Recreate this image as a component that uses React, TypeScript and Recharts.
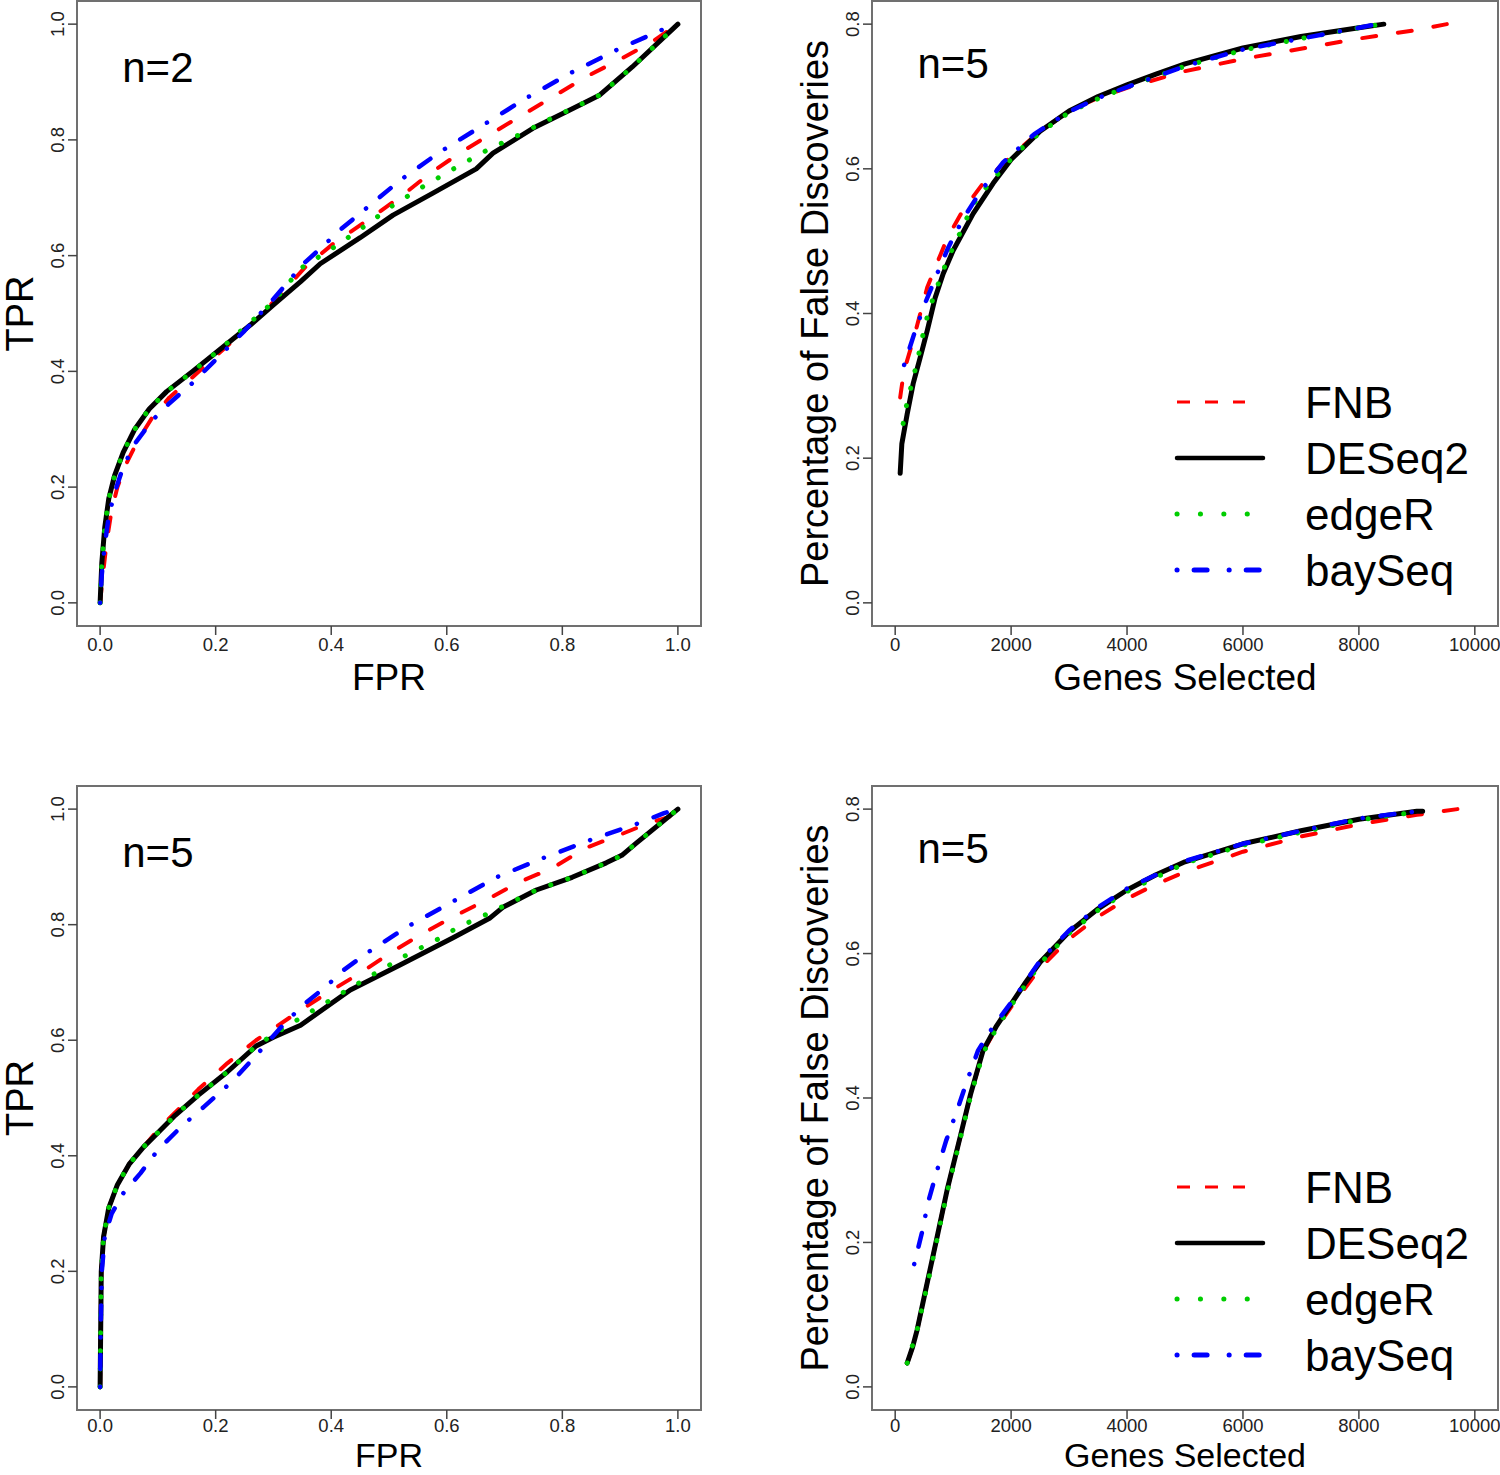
import {
  Legend,
  Line,
  LineChart,
  ReferenceArea,
  ReferenceDot,
  XAxis,
  YAxis,
} from "recharts";

const FONT = '"Liberation Sans", Arial, Helvetica, sans-serif';

const methods = ["FNB", "DESeq2", "edgeR", "baySeq"];

const fprTicks = [0, 0.2, 0.4, 0.6, 0.8, 1.0];
const tprTicks = [0, 0.2, 0.4, 0.6, 0.8, 1.0];
const geneTicks = [0, 2000, 4000, 6000, 8000, 10000];
const fdTicks = [0, 0.2, 0.4, 0.6, 0.8];

// ROC, n=2 (FPR, TPR)
const rocN2FNB = [
  [0, 0], [0.005, 0.05], [0.012, 0.11], [0.02, 0.16], [0.03, 0.2], [0.045, 0.24],
  [0.065, 0.28], [0.09, 0.32], [0.12, 0.355], [0.16, 0.39], [0.21, 0.435],
  [0.26, 0.48], [0.3, 0.52], [0.355, 0.58], [0.404, 0.621], [0.47, 0.666],
  [0.519, 0.701], [0.571, 0.742], [0.622, 0.777], [0.668, 0.805], [0.731, 0.843],
  [0.783, 0.874], [0.841, 0.909], [0.898, 0.938], [0.955, 0.969], [1, 1],
];
const rocN2DESeq2 = [
  [0, 0], [0.003, 0.07], [0.008, 0.13], [0.015, 0.18], [0.025, 0.22], [0.04, 0.26],
  [0.06, 0.3], [0.085, 0.335], [0.115, 0.365], [0.16, 0.4], [0.21, 0.44],
  [0.26, 0.48], [0.3, 0.515], [0.347, 0.555], [0.381, 0.586], [0.45, 0.631],
  [0.507, 0.67], [0.576, 0.708], [0.651, 0.75], [0.68, 0.777], [0.749, 0.82],
  [0.806, 0.848], [0.846, 0.868], [0.864, 0.877], [0.921, 0.926], [1, 1],
];
const rocN2EdgeR = [
  [0, 0], [0.003, 0.07], [0.008, 0.13], [0.015, 0.18], [0.025, 0.22], [0.04, 0.26],
  [0.06, 0.3], [0.085, 0.335], [0.115, 0.365], [0.16, 0.4], [0.21, 0.44],
  [0.26, 0.485], [0.3, 0.52], [0.347, 0.578], [0.404, 0.614], [0.455, 0.649],
  [0.507, 0.687], [0.56, 0.72], [0.617, 0.753], [0.671, 0.783], [0.728, 0.81],
  [0.77, 0.832], [0.846, 0.868], [0.864, 0.877], [0.921, 0.926], [1, 1],
];
const rocN2BaySeq = [
  [0, 0], [0.003, 0.05], [0.008, 0.1], [0.015, 0.15], [0.025, 0.19], [0.04, 0.235],
  [0.06, 0.275], [0.09, 0.315], [0.12, 0.345], [0.16, 0.38], [0.2, 0.42],
  [0.25, 0.47], [0.3, 0.525], [0.352, 0.586], [0.381, 0.612], [0.416, 0.645],
  [0.45, 0.673], [0.519, 0.73], [0.588, 0.779], [0.662, 0.825], [0.737, 0.872],
  [0.817, 0.917], [0.893, 0.955], [0.972, 0.99], [1, 1],
];

// ROC, n=5
const rocN5FNB = [
  [0, 0], [0.001, 0.1], [0.002, 0.2], [0.006, 0.26], [0.015, 0.31], [0.03, 0.35],
  [0.05, 0.385], [0.075, 0.415], [0.1, 0.445], [0.13, 0.475], [0.17, 0.515],
  [0.22, 0.56], [0.27, 0.6], [0.3, 0.62], [0.347, 0.652], [0.395, 0.683],
  [0.45, 0.716], [0.502, 0.751], [0.559, 0.785], [0.61, 0.813], [0.669, 0.843],
  [0.726, 0.874], [0.783, 0.898], [0.841, 0.933], [0.898, 0.955], [0.95, 0.976],
  [0.984, 0.986], [1, 1],
];
const rocN5DESeq2 = [
  [0, 0], [0.001, 0.1], [0.002, 0.2], [0.006, 0.26], [0.015, 0.31], [0.03, 0.35],
  [0.05, 0.385], [0.075, 0.415], [0.1, 0.44], [0.13, 0.47], [0.17, 0.505],
  [0.22, 0.545], [0.27, 0.59], [0.3, 0.605], [0.347, 0.626], [0.433, 0.687],
  [0.519, 0.73], [0.61, 0.777], [0.674, 0.811], [0.697, 0.83], [0.755, 0.86],
  [0.817, 0.882], [0.876, 0.907], [0.903, 0.92], [0.928, 0.941], [1, 1],
];
const rocN5EdgeR = [
  [0, 0], [0.001, 0.1], [0.002, 0.2], [0.006, 0.26], [0.015, 0.31], [0.03, 0.35],
  [0.05, 0.385], [0.075, 0.415], [0.1, 0.44], [0.13, 0.47], [0.17, 0.505],
  [0.22, 0.545], [0.27, 0.59], [0.3, 0.61], [0.364, 0.649], [0.393, 0.666],
  [0.473, 0.714], [0.528, 0.746], [0.585, 0.775], [0.612, 0.791], [0.64, 0.805],
  [0.669, 0.818], [0.698, 0.832], [0.755, 0.86], [0.817, 0.882], [0.876, 0.907],
  [0.903, 0.92], [0.928, 0.941], [1, 1],
];
const rocN5BaySeq = [
  [0, 0], [0.001, 0.1], [0.003, 0.2], [0.008, 0.26], [0.02, 0.3], [0.04, 0.335],
  [0.07, 0.37], [0.1, 0.41], [0.14, 0.45], [0.18, 0.485], [0.23, 0.53],
  [0.28, 0.585], [0.32, 0.63], [0.355, 0.664], [0.39, 0.692], [0.421, 0.721],
  [0.462, 0.751], [0.531, 0.796], [0.605, 0.837], [0.686, 0.882], [0.766, 0.915],
  [0.847, 0.946], [0.933, 0.976], [0.976, 0.993], [1, 1],
];

// False discoveries vs genes selected, n=5 (top)
const fdTopFNB = [
  [86, 0.284], [150, 0.32], [310, 0.363], [552, 0.436], [897, 0.504], [1172, 0.543],
  [1517, 0.58], [1900, 0.61], [2400, 0.645], [3000, 0.68], [3500, 0.698],
  [4000, 0.712], [5000, 0.735], [6000, 0.752], [7000, 0.766], [8000, 0.78],
  [9000, 0.792], [9517, 0.8],
];
const fdTopDESeq2 = [
  [86, 0.179], [115, 0.22], [207, 0.261], [310, 0.303], [431, 0.339], [552, 0.376],
  [690, 0.422], [828, 0.455], [1000, 0.487], [1345, 0.538], [1690, 0.58],
  [2000, 0.613], [2500, 0.652], [3000, 0.68], [3500, 0.7], [4000, 0.716],
  [4500, 0.731], [5000, 0.745], [6000, 0.767], [7000, 0.783], [8000, 0.795], [8430, 0.8],
];
const fdTopEdgeR = [
  [138, 0.248], [207, 0.278], [310, 0.31], [397, 0.34], [483, 0.372], [569, 0.401],
  [707, 0.433], [845, 0.463], [1000, 0.492], [1172, 0.52], [1328, 0.549],
  [1569, 0.574], [2103, 0.623], [2500, 0.65], [3000, 0.678], [3500, 0.697],
  [4000, 0.713], [5000, 0.742], [6000, 0.764], [7000, 0.78], [8000, 0.795], [8400, 0.8],
];
const fdTopBaySeq = [
  [155, 0.329], [345, 0.376], [500, 0.411], [724, 0.455], [914, 0.491], [1172, 0.531],
  [1466, 0.568], [1862, 0.609], [2400, 0.648], [3000, 0.679], [3500, 0.698],
  [4000, 0.713], [5000, 0.742], [6000, 0.765], [7000, 0.78], [8000, 0.795], [8300, 0.8],
];

// False discoveries vs genes selected, n=5 (bottom)
const fdBotFNB = [
  [207, 0.033], [300, 0.055], [379, 0.079], [552, 0.144], [724, 0.208], [897, 0.273],
  [1121, 0.346], [1300, 0.405], [1517, 0.464], [1750, 0.497], [2000, 0.526],
  [2500, 0.58], [3000, 0.62], [3500, 0.651], [4000, 0.676], [4500, 0.696],
  [5000, 0.713], [6000, 0.741], [7000, 0.762], [8000, 0.779], [9000, 0.792], [9700, 0.8],
];
const fdBotDESeq2 = [
  [207, 0.033], [300, 0.055], [379, 0.079], [552, 0.144], [724, 0.208], [897, 0.273],
  [1121, 0.346], [1300, 0.405], [1517, 0.466], [1750, 0.5], [2000, 0.53],
  [2250, 0.56], [2500, 0.588], [3000, 0.63], [3500, 0.662], [4000, 0.688],
  [4500, 0.709], [5000, 0.727], [6000, 0.752], [7000, 0.77], [8000, 0.786],
  [9000, 0.797], [9100, 0.797],
];
const fdBotEdgeR = [
  [207, 0.033], [379, 0.079], [552, 0.14], [724, 0.205], [897, 0.27], [1121, 0.343],
  [1300, 0.402], [1517, 0.462], [1750, 0.497], [2000, 0.528], [2500, 0.586],
  [3000, 0.628], [3500, 0.66], [4000, 0.686], [5000, 0.725], [6000, 0.75],
  [7000, 0.768], [8000, 0.785], [9000, 0.796],
];
const fdBotBaySeq = [
  [328, 0.17], [466, 0.215], [569, 0.256], [724, 0.3], [879, 0.341], [1069, 0.383],
  [1241, 0.424], [1431, 0.466], [1700, 0.5], [2000, 0.532], [2500, 0.59],
  [3000, 0.632], [3500, 0.664], [4000, 0.69], [5000, 0.728], [6000, 0.752],
  [7000, 0.77], [8000, 0.787], [9000, 0.797],
];

const pts = (a: number[][]) => a.map(([x, y]) => ({ x, y }));

const lineStyle: Record<string, any> = {
  FNB: { stroke: "#ff0000", dash: "14 22", width: 4 },
  DESeq2: { stroke: "#000000", dash: undefined, width: 5 },
  edgeR: { stroke: "#00cd00", dash: "0.1 17.9", width: 5 },
  baySeq: { stroke: "#0000ff", dash: "0.1 17.9 14 17.5", width: 4.5 },
};

const legendStyle: Record<string, any> = {
  FNB: { x2: 95, dash: "13 15", width: 3.2, cap: "butt" },
  DESeq2: { x2: 113, dash: undefined, width: 4.5, cap: "round" },
  edgeR: { x2: 98, dash: "0.1 23.3", width: 5, cap: "round" },
  baySeq: { x2: 113, dash: "0.1 17 13 22", width: 5, cap: "round" },
};

const LegendBox = () => (
  <svg width={350} height={240} style={{ display: "block" }}>
    {methods.map((m, i) => {
      const s = legendStyle[m];
      return (
        <g key={m}>
          <line
            x1={27}
            x2={s.x2}
            y1={32 + 56 * i}
            y2={32 + 56 * i}
            stroke={lineStyle[m].stroke}
            strokeWidth={s.width}
            strokeDasharray={s.dash}
            strokeLinecap={s.cap}
          />
          <text x={155} y={48 + 56 * i} fontSize={44} fontFamily={FONT} fill="#000">
            {m}
          </text>
        </g>
      );
    })}
  </svg>
);

const fmt1 = (v: number) => v.toFixed(1);
const fmt0 = (v: number) => String(v);

const Panel = ({
  left,
  top,
  width,
  height,
  plotLeft,
  plotRight,
  plotTop,
  plotBottom,
  xDomain,
  yDomain,
  xTicks,
  yTicks,
  xFmt,
  yFmt,
  xTitle,
  yTitle,
  tag,
  tagPos,
  series,
  legend,
  tickDy = 16,
  titleDy = 64,
  titleSize = 37,
}: any) => {
  const XTick = ({ x, y, payload }: any) => (
    <text x={x} y={y + tickDy} textAnchor="middle" fontSize={18.5} fontFamily={FONT} fill="#222">
      {xFmt(payload.value)}
    </text>
  );
  const YTick = ({ x, y, payload }: any) => (
    <text
      x={x - 4}
      y={y}
      textAnchor="middle"
      fontSize={18.5}
      fontFamily={FONT}
      fill="#222"
      transform={`rotate(-90, ${x - 4}, ${y})`}
    >
      {yFmt(payload.value)}
    </text>
  );
  const XTitle = ({ viewBox }: any) => (
    <text
      x={viewBox.x + viewBox.width / 2}
      y={viewBox.y + titleDy}
      textAnchor="middle"
      fontSize={titleSize}
      fontFamily={FONT}
      fill="#000"
    >
      {xTitle}
    </text>
  );
  const YTitle = ({ viewBox }: any) => {
    const bx = viewBox.x + viewBox.width - 44;
    const cy = viewBox.y + viewBox.height / 2;
    return (
      <text
        x={bx}
        y={cy}
        textAnchor="middle"
        fontSize={38}
        fontFamily={FONT}
        fill="#000"
        transform={`rotate(-90, ${bx}, ${cy})`}
      >
        {yTitle}
      </text>
    );
  };
  const TagLabel = ({ viewBox }: any) => (
    <text
      x={viewBox.x + viewBox.width / 2}
      y={viewBox.y + viewBox.height / 2}
      dy="0.36em"
      textAnchor="middle"
      fontSize={42}
      fontFamily={FONT}
      fill="#000"
    >
      {tag}
    </text>
  );

  return (
    <div style={{ position: "absolute", left, top, width, height }}>
      <LineChart
        width={width}
        height={height}
        margin={{ top: plotTop, right: width - plotRight, left: 0, bottom: 0 }}
      >
        <XAxis
          type="number"
          dataKey="x"
          domain={xDomain}
          ticks={xTicks}
          interval={0}
          height={height - plotBottom}
          axisLine={false}
          tickSize={9}
          tickMargin={0}
          tickLine={{ stroke: "#444", strokeWidth: 1.5 }}
          tick={<XTick />}
          label={<XTitle />}
        />
        <YAxis
          type="number"
          domain={yDomain}
          ticks={yTicks}
          interval={0}
          width={plotLeft}
          axisLine={false}
          tickSize={9}
          tickMargin={0}
          tickLine={{ stroke: "#444", strokeWidth: 1.5 }}
          tick={<YTick />}
          label={<YTitle />}
        />
        {methods.map((m) => (
          <Line
            key={m}
            data={pts(series[m])}
            dataKey="y"
            type="linear"
            stroke={lineStyle[m].stroke}
            strokeWidth={lineStyle[m].width}
            strokeDasharray={lineStyle[m].dash}
            strokeLinecap="round"
            strokeLinejoin="round"
            dot={false}
            activeDot={false}
            isAnimationActive={false}
          />
        ))}
        <ReferenceArea
          x1={xDomain[0]}
          x2={xDomain[1]}
          y1={yDomain[0]}
          y2={yDomain[1]}
          fill="none"
          fillOpacity={0}
          stroke="#707070"
          strokeWidth={2}
          ifOverflow="visible"
        />
        <ReferenceDot
          x={tagPos[0]}
          y={tagPos[1]}
          r={0}
          fill="none"
          stroke="none"
          ifOverflow="visible"
          label={(p: any) => <TagLabel {...p} />}
        />
        {legend && (
          <Legend
            layout="vertical"
            align="center"
            verticalAlign="middle"
            wrapperStyle={{ left: 360, top: 370, width: 350, height: 240 }}
            content={() => <LegendBox />}
          />
        )}
      </LineChart>
    </div>
  );
};

const rocDomain = [-0.04, 1.04];
const geneDomain = [-400, 10400];
const fdDomain = [-0.032, 0.832];

export default function App() {
  return (
    <div
      style={{
        position: "absolute",
        left: 0,
        top: 0,
        width: 1500,
        height: 1475,
        background: "#fff",
        overflow: "hidden",
      }}
    >
      <Panel
        left={0}
        top={0}
        width={740}
        height={700}
        plotLeft={77}
        plotRight={701}
        plotTop={1}
        plotBottom={626}
        xDomain={rocDomain}
        yDomain={rocDomain}
        xTicks={fprTicks}
        yTicks={tprTicks}
        xFmt={fmt1}
        yFmt={fmt1}
        xTitle="FPR"
        yTitle="TPR"
        tag="n=2"
        tagPos={[0.1, 0.926]}
        series={{ FNB: rocN2FNB, DESeq2: rocN2DESeq2, edgeR: rocN2EdgeR, baySeq: rocN2BaySeq }}
      />
      <Panel
        left={790}
        top={0}
        width={710}
        height={700}
        plotLeft={82}
        plotRight={708}
        plotTop={1}
        plotBottom={626}
        xDomain={geneDomain}
        yDomain={fdDomain}
        xTicks={geneTicks}
        yTicks={fdTicks}
        xFmt={fmt0}
        yFmt={fmt1}
        xTitle="Genes Selected"
        yTitle="Percentage of False Discoveries"
        tag="n=5"
        tagPos={[1000, 0.747]}
        series={{ FNB: fdTopFNB, DESeq2: fdTopDESeq2, edgeR: fdTopEdgeR, baySeq: fdTopBaySeq }}
        legend
      />
      <Panel
        left={0}
        top={785}
        width={740}
        height={690}
        plotLeft={77}
        plotRight={701}
        plotTop={1}
        plotBottom={625}
        xDomain={rocDomain}
        yDomain={rocDomain}
        xTicks={fprTicks}
        yTicks={tprTicks}
        xFmt={fmt1}
        yFmt={fmt1}
        xTitle="FPR"
        yTitle="TPR"
        tag="n=5"
        tagPos={[0.1, 0.926]}
        series={{ FNB: rocN5FNB, DESeq2: rocN5DESeq2, edgeR: rocN5EdgeR, baySeq: rocN5BaySeq }}
        tickDy={13}
        titleDy={57}
        titleSize={34}
      />
      <Panel
        left={790}
        top={785}
        width={710}
        height={690}
        plotLeft={82}
        plotRight={708}
        plotTop={1}
        plotBottom={625}
        xDomain={geneDomain}
        yDomain={fdDomain}
        xTicks={geneTicks}
        yTicks={fdTicks}
        xFmt={fmt0}
        yFmt={fmt1}
        xTitle="Genes Selected"
        yTitle="Percentage of False Discoveries"
        tag="n=5"
        tagPos={[1000, 0.747]}
        series={{ FNB: fdBotFNB, DESeq2: fdBotDESeq2, edgeR: fdBotEdgeR, baySeq: fdBotBaySeq }}
        legend
        tickDy={13}
        titleDy={57}
        titleSize={34}
      />
    </div>
  );
}
